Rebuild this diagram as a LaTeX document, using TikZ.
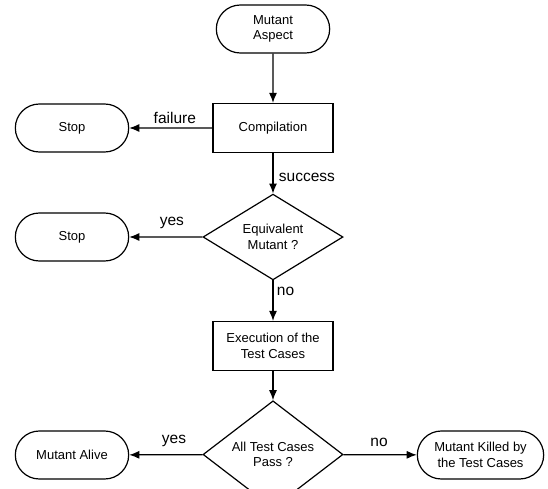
\documentclass[tikz,border=0pt]{standalone}
\usepackage{fontspec}
\setmainfont{Liberation Sans}
\usetikzlibrary{shapes.misc,shapes.geometric,arrows.meta}

\begin{document}
\begin{tikzpicture}[x=1pt, y=-1pt, line width=1.2pt,
 term/.style={rounded rectangle, draw, minimum width=120pt, minimum height=48pt, align=center, font=\fontsize{13}{15.5}\selectfont},
 proc/.style={rectangle, draw, minimum width=120pt, minimum height=49pt, align=center, font=\fontsize{13}{15.5}\selectfont},
 decide/.style={diamond, draw, minimum width=140pt, minimum height=67pt, inner sep=0pt, align=center, font=\fontsize{13}{15.5}\selectfont},
 lbl/.style={font=\fontsize{15.5}{18}\selectfont},
 flow/.style={-{Latex[length=10pt,width=8pt]}}]
 \useasboundingbox (0,0) rectangle (548,489);

 \draw node[term] (aspect) at (273,29) {Mutant\\Aspect};
 \draw node[proc] (comp) at (273,128) {Compilation};
 \draw node[term] (stop1) at (72,128) {Stop};
 \draw node[decide] (equiv) at (273,237) {Equivalent\\Mutant ?};
 \draw node[term] (stop2) at (72,237) {Stop};
 \draw node[proc] (exec) at (273,346) {Execution of the\\Test Cases};
 \draw node[decide] (pass) at (273,454.5) {All Test Cases\\Pass ?};
 \draw node[term] (alive) at (72,455) {Mutant Alive};
 \draw node[term, minimum width=133pt] (killed) at (480.5,455) {Mutant Killed by\\the Test Cases};

 \draw[flow] (aspect) -- (comp);

 \draw[flow] (comp) -- (stop1)
 node[midway, above, lbl, xshift=4pt] {failure};

 \draw[flow] (comp) -- (equiv)
 node[midway, right, lbl, xshift=2pt, yshift=-4pt] {success};

 \draw[flow] (equiv) -- (stop2)
 node[midway, above, lbl, xshift=6pt, yshift=4pt] {yes};

 \draw[flow] (equiv) -- (exec)
 node[midway, right, lbl, yshift=9pt] {no};

 \draw[flow] (exec) -- (pass);

 \draw[flow] (pass) -- (alive)
 node[midway, above, lbl, xshift=8pt, yshift=4pt] {yes};

 \draw[flow] (pass) -- (killed)
 node[midway, above, lbl, xshift=-1pt, yshift=4pt] {no};
\end{tikzpicture}
\end{document}
